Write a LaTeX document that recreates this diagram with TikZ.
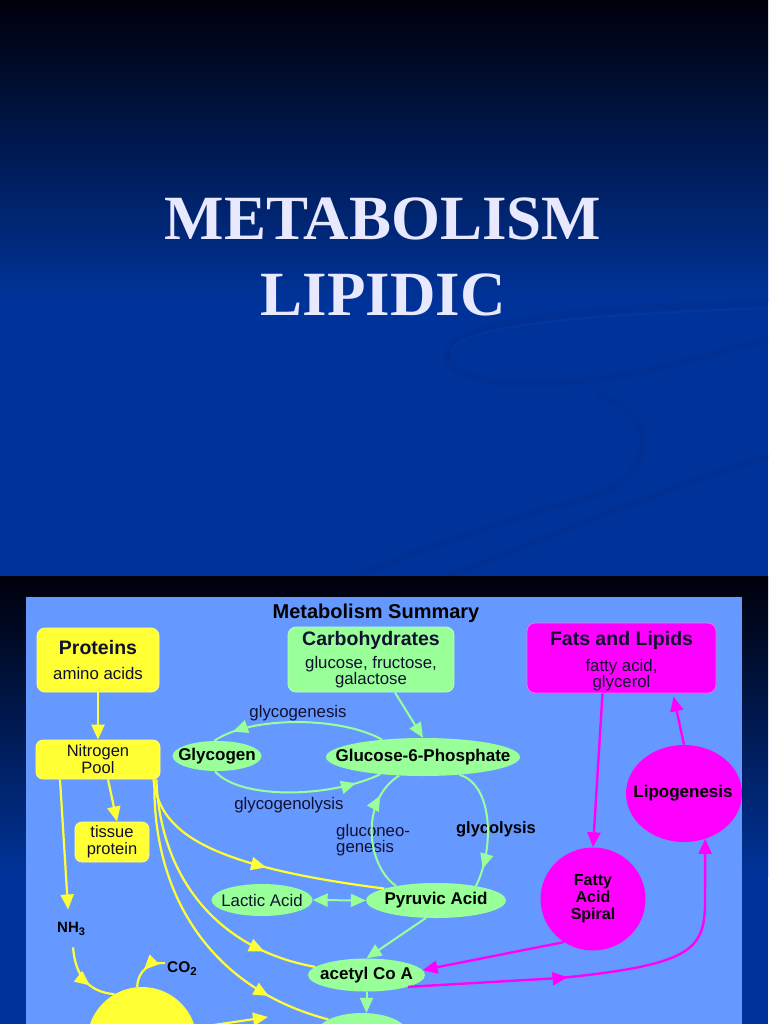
\documentclass[tikz,border=0pt]{standalone}
\usepackage{fontspec}
\setmainfont{Liberation Serif}
\setsansfont{Liberation Sans}
\usetikzlibrary{arrows.meta,shapes.geometric,decorations.markings,calc}
\definecolor{sdark}{HTML}{00000A}
\definecolor{sblue}{HTML}{003399}
\definecolor{panel}{HTML}{6699FF}
\definecolor{ylw}{HTML}{FFFF33}
\definecolor{ylwb}{HTML}{FFFF88}
\definecolor{grn}{HTML}{99FF99}
\definecolor{mag}{HTML}{FF00FF}
\definecolor{magb}{HTML}{FF66FF}
\definecolor{ink}{HTML}{101030}
\definecolor{titlec}{HTML}{E8E8FF}
\definecolor{swoosh}{HTML}{002A88}
\definecolor{swooshl}{HTML}{0A40AA}
\newcommand{\zwbox}[1]{\makebox[0pt]{#1}}
\begin{document}
\begin{tikzpicture}[x=1pt,y=-1pt,
  >={Triangle[length=15pt,width=13pt]},
  ybox/.style={draw=ylwb, fill=ylw, line width=0.8pt, rounded corners=7pt, align=center,
    inner sep=0pt, text=ink, font=\sffamily\fontsize{16.8}{16}\selectfont},
  gbox/.style={ybox, draw=grn!70!white, fill=grn},
  mbox/.style={ybox, draw=magb, fill=mag},
  gell/.style={ellipse, fill=grn, inner sep=0pt, text=black,
    font=\sffamily\bfseries\fontsize{17}{18}\selectfont},
  mell/.style={ellipse, fill=mag, inner sep=0pt, text=black, align=center,
    font=\sffamily\bfseries\fontsize{16}{17}\selectfont},
  yline/.style={draw=ylw, line width=2.2pt},
  gline/.style={draw=grn, line width=2pt},
  mline/.style={draw=mag, line width=2.4pt},
  midarr/.style={postaction={decorate},
    decoration={markings, mark=at position #1 with {\arrow{>}}}},
  lbl/.style={inner sep=0pt, text=ink, font=\sffamily\fontsize{16.8}{16}\selectfont},
  blbl/.style={inner sep=0pt, text=black, font=\sffamily\bfseries\fontsize{16.5}{16}\selectfont},
  swl/.style={draw=swoosh, line width=7pt, opacity=0.3, line cap=round},
  ttl/.style={font=\bfseries\fontsize{63}{75}\selectfont, text=titlec, anchor=base}
]
\useasboundingbox (0,0) rectangle (768,1024);

% ---------- slide 1 ----------
\shade[top color=sdark, bottom color=sblue] (0,0) rectangle (768,300);
\fill[sblue] (0,299) rectangle (768,576);
\begin{scope}
\clip (0,0) rectangle (768,576);
\draw[swl] (447,355) .. controls (450,318) and (600,308) .. (775,302);
\draw[swl] (447,355) .. controls (452,392) and (560,388) .. (640,372) .. controls (700,360) and (740,345) .. (775,338);
\draw[swl] (600,395) .. controls (665,420) and (655,482) .. (580,500) .. controls (520,515) and (430,545) .. (360,575);
\draw[swl] (440,580) .. controls (560,532) and (680,482) .. (775,455);
\draw[draw=swooshl, line width=2pt, opacity=0.3] (452,352) .. controls (456,324) and (600,314) .. (775,308);
\end{scope}

\node[ttl] (t1) at (383,240) {METABOLISM};
\node[ttl] (t2) at (383,315) {LIPIDIC};

% ---------- slide 2 ----------
\shade[top color=sdark, bottom color=sblue] (0,576) rectangle (768,876);
\fill[sblue] (0,875) rectangle (768,1024);
\fill[panel] (26,597) rectangle (742,1024);

\node[blbl, font=\sffamily\bfseries\fontsize{20}{20}\selectfont] (msum) at (376,613) {Metabolism Summary};

% boxes
\node[ybox, rounded corners=8pt, minimum width=122pt, minimum height=64pt] (prot) at (98,660)
  {{\bfseries\fontsize{19.5}{20}\selectfont Proteins}\\[9pt]amino acids};
\node[ybox, minimum width=124pt, minimum height=39pt, font=\sffamily\fontsize{16.5}{17}\selectfont] (nitro) at (98,759.5) {Nitrogen\\Pool};
\node[ybox, minimum width=74pt, minimum height=40pt, font=\sffamily\fontsize{16.5}{17}\selectfont] (tissue) at (112,842) {tissue\\protein};
\node[gbox, rounded corners=8pt, minimum width=166pt, minimum height=65pt] (carb) at (371,659.5)
  {{\bfseries\fontsize{19.5}{20}\selectfont Carbohydrates}\\[6pt]glucose, fructose,\\galactose};
\node[mbox, rounded corners=8pt, minimum width=189pt, minimum height=70pt] (fats) at (621.5,658)
  {\rule{0pt}{20pt}{\bfseries\fontsize{19.5}{20}\selectfont Fats and Lipids}\\[9pt]fatty acid,\\glycerol};

% ellipses
\node[gell, minimum width=89pt, minimum height=30pt] (glyc) at (217,756) {\zwbox{Glycogen}};
\node[gell, minimum width=194pt, minimum height=38pt] (g6p) at (423,757) {\zwbox{Glucose-6-Phosphate}};
\node[gell, minimum width=101pt, minimum height=32pt, text=ink, font=\sffamily\fontsize{16.8}{18}\selectfont] (lac) at (262,900) {\zwbox{Lactic Acid}};
\node[gell, minimum width=140pt, minimum height=35pt] (pyr) at (436,900.5) {\zwbox{Pyruvic Acid}};
\node[gell, minimum width=117pt, minimum height=33pt] (acoa) at (366.5,975) {\zwbox{acetyl Co A}};
\node[gell, minimum width=90pt, minimum height=40pt] (bot) at (362,1033) {};

% magenta
\node[mell, minimum width=105pt, minimum height=103pt] (fas) at (593,899) {Fatty\\Acid\\Spiral};
\begin{scope}
\clip (26,597) rectangle (742,1024);
\node[mell, minimum width=116pt, minimum height=97pt, font=\sffamily\bfseries\fontsize{17}{17}\selectfont] (lipo) at (684,793.5) {\zwbox{\hspace*{-2pt}Lipogenesis}};
\end{scope}

% yellow circle and small labels
\node[circle, fill=ylw, minimum size=110pt, inner sep=0pt] (kreb) at (142,1042) {};
\node[blbl, font=\sffamily\bfseries\fontsize{15}{16}\selectfont, anchor=base west] (nh3) at (57,932)
  {NH\raisebox{-3pt}{\fontsize{11}{11}\selectfont 3}};
\node[blbl, font=\sffamily\bfseries\fontsize{15.5}{16}\selectfont, anchor=base west] (co2) at (167,972)
  {CO\raisebox{-3pt}{\fontsize{11.5}{11.5}\selectfont 2}};
\coordinate (atp) at (268,1017);

% labels
\node[lbl] (lgen) at (298,713) {glycogenesis};
\node[lbl] (llys) at (289,805) {glycogenolysis};
\node[lbl, align=left, anchor=west] (lneo) at (336,840) {gluconeo-\\genesis};
\node[blbl] (lgly) at (496,829) {glycolysis};

% ---------- connectors ----------
% yellow
\draw[yline,->] (prot.south) -- (nitro.north);
\draw[yline,->] ($(nitro.south)+(-38,0)$) -- ($(nh3.north)+(-3,-12)$);
\draw[yline,->] ($(nitro.south)+(10,0)$) -- ($(tissue.north)+(5,0)$);
\draw[yline, midarr=0.56] ($(nitro.south east)+(-7,0)$) .. controls (160,830) and (200,865) .. (pyr.167);
\draw[yline, midarr=0.8] ($(nitro.south east)+(-4,0)$) .. controls (160,880) and (220,950) .. (acoa.171);
\draw[yline, midarr=0.8] ($(nitro.south east)+(-6,0)$) .. controls (152,900) and (215,990) .. (bot.158);
\draw[yline, midarr=0.62] ($(nh3.south)+(2,12)$) .. controls (75,975) and (88,992) .. (kreb.120);
\draw[yline, midarr=0.55] ($(co2.west)+(-2,-5)$) .. controls (150,962) and (138,970) .. (kreb.95);
\draw[yline,->] (kreb.15) -- (atp);

% green
\draw[gline,->] (carb.306) -- (g6p.north);
\draw[gline, midarr=0.88] (g6p.157) .. controls (340,716) and (250,716) .. (glyc.100);
\draw[gline, midarr=0.85] (glyc.262) .. controls (240,800) and (330,798) .. (g6p.202);
\draw[gline, midarr=0.78] (pyr.160) .. controls (366,865) and (360,800) .. (g6p.218);
\draw[gline, midarr=0.85] (g6p.334) .. controls (494,785) and (494,850) .. (pyr.20);
\draw[gline,<->] (lac.east) -- (pyr.west);
\draw[gline,->] (pyr.240) -- (acoa.north);
\draw[gline,->] (acoa.south) -- (acoa.south |- bot.north);

% magenta
\draw[mline,->] ($(fats.south)+(-19,0)$) -- (fas.north);
\draw[mline,->,shorten >=3pt] (lipo.north) -- ($(fats.south)+(51.5,0)$);
\draw[mline,->] (fas.236) -- (acoa.5);
\draw[mline,->, midarr=0.4] (acoa.344) -- (560,978) .. controls (690,965) and (704,950) .. (705,905) -- (lipo.295);
\end{tikzpicture}
\end{document}
